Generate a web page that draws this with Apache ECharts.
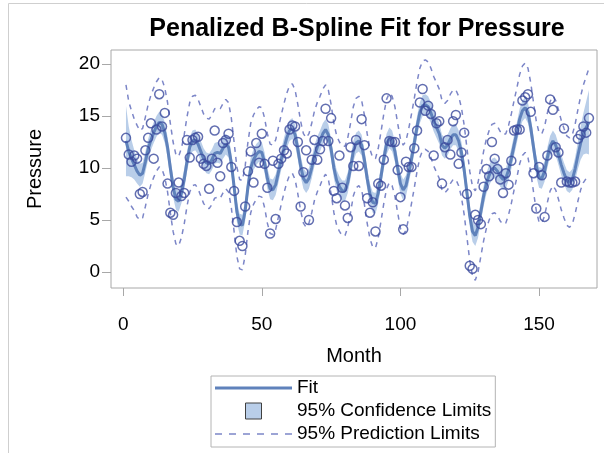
<!DOCTYPE html>
<html><head><meta charset="utf-8">
<script src="https://cdn.jsdelivr.net/npm/echarts@6.0.0/dist/echarts.min.js"></script>
<style>html,body{margin:0;padding:0;background:#fff;}#c{width:604px;height:453px;}</style>
</head><body><div id="c"></div>
<script>
const month = [1,2,3,4,5,6,7,8,9,10,11,12,13,14,15,16,17,18,19,20,21,22,23,24,25,26,27,28,29,30,31,32,33,34,35,36,37,38,39,40,41,42,43,44,45,46,47,48,49,50,51,52,53,54,55,56,57,58,59,60,61,62,63,64,65,66,67,68,69,70,71,72,73,74,75,76,77,78,79,80,81,82,83,84,85,86,87,88,89,90,91,92,93,94,95,96,97,98,99,100,101,102,103,104,105,106,107,108,109,110,111,112,113,114,115,116,117,118,119,120,121,122,123,124,125,126,127,128,129,130,131,132,133,134,135,136,137,138,139,140,141,142,143,144,145,146,147,148,149,150,151,152,153,154,155,156,157,158,159,160,161,162,163,164,165,166,167,168];
const pressure = [12.9,11.3,10.6,11.2,10.9,7.5,7.7,11.7,12.9,14.3,10.9,13.7,17.1,14.0,15.3,8.5,5.7,5.5,7.6,8.6,7.3,7.6,12.7,11.0,12.7,12.9,13.0,10.9,10.4,10.2,8.0,10.9,13.6,10.5,9.2,12.4,12.7,13.3,10.1,7.8,4.8,3.0,2.5,6.3,9.7,11.6,8.6,12.4,10.5,13.3,10.4,8.1,3.7,10.7,5.1,10.4,10.9,11.7,11.4,13.7,14.1,14.0,12.5,6.3,9.6,11.7,5.0,10.8,12.7,10.8,11.8,12.6,15.7,12.6,14.8,7.8,7.1,11.2,8.1,6.4,5.2,12.0,10.2,12.7,10.2,14.7,12.2,7.1,5.7,6.7,3.9,8.5,8.3,10.8,16.7,12.6,12.5,12.5,9.8,7.2,4.1,10.6,10.1,10.1,11.9,13.6,16.3,17.6,15.5,16.0,15.2,11.2,14.3,14.5,8.5,12.0,12.7,11.3,14.5,15.1,10.4,11.5,13.4,7.5,0.6,0.3,5.5,5.0,4.6,8.2,9.9,9.2,12.5,10.9,9.9,8.9,7.6,9.5,8.4,10.7,13.6,13.7,13.7,16.5,16.8,17.1,15.4,9.5,6.1,10.1,9.3,5.3,11.2,16.6,15.6,12.0,11.5,8.6,13.8,8.7,8.6,8.6,8.7,12.8,13.2,14.0,13.4,14.8];
const fit = [12.6,11.6,10.9,10.3,9.7,9.3,9.5,10.6,11.8,12.7,13.4,14.0,14.4,14.2,13.4,12.0,10.0,8.2,7.0,6.8,7.6,8.9,10.6,12.0,12.6,12.7,12.3,11.6,10.9,10.5,10.4,10.8,11.4,11.5,11.4,11.9,12.3,12.0,10.5,8.2,5.8,4.6,4.5,5.9,8.2,10.0,10.8,11.3,11.6,11.5,10.5,9.0,8.0,7.9,8.4,9.6,10.8,11.9,12.9,13.6,13.8,13.2,11.8,10.2,9.0,8.6,9.0,10.0,11.2,12.0,12.6,13.3,13.7,13.2,11.8,10.0,8.8,8.2,7.8,7.8,8.6,10.0,11.6,12.4,12.6,12.2,10.8,9.0,7.5,6.7,6.6,7.6,9.2,10.9,12.3,12.9,12.6,11.6,10.0,8.5,7.9,8.3,9.5,10.9,12.4,14.0,15.3,16.0,16.1,15.9,15.3,14.5,13.9,13.3,12.2,11.9,12.2,12.8,13.2,13.2,12.6,11.5,9.8,7.6,5.4,3.9,3.5,4.3,5.8,7.3,8.5,9.3,9.9,10.0,9.7,9.2,8.9,9.0,9.8,10.9,12.2,13.4,14.7,15.5,15.8,15.3,13.9,12.0,10.2,9.1,9.0,9.7,11.0,12.1,12.6,12.2,11.3,10.3,9.5,8.8,8.6,8.9,9.9,11.2,12.4,13.3,13.9,14.4];
const lowerCL = [9.2,9.2,9.1,8.9,8.5,8.2,8.5,9.6,10.8,11.7,12.4,13.0,13.4,13.2,12.4,11.0,9.0,7.2,6.0,5.8,6.6,7.9,9.6,11.0,11.6,11.7,11.3,10.6,9.9,9.5,9.4,9.8,10.4,10.5,10.4,10.9,11.3,11.0,9.5,7.2,4.8,3.6,3.5,4.9,7.2,9.0,9.8,10.3,10.6,10.5,9.5,8.0,7.0,6.9,7.4,8.6,9.8,10.9,11.9,12.6,12.8,12.2,10.8,9.2,8.0,7.6,8.0,9.0,10.2,11.0,11.6,12.3,12.7,12.2,10.8,9.0,7.8,7.2,6.8,6.8,7.6,9.0,10.6,11.4,11.6,11.2,9.8,8.0,6.5,5.7,5.6,6.6,8.2,9.9,11.3,11.9,11.6,10.6,9.0,7.5,6.9,7.3,8.5,9.9,11.4,13.0,14.3,15.0,15.1,14.9,14.3,13.5,12.9,12.3,11.2,10.9,11.2,11.8,12.2,12.2,11.6,10.5,8.8,6.6,4.4,2.9,2.5,3.3,4.8,6.3,7.5,8.3,8.9,9.0,8.7,8.2,7.9,8.0,8.8,9.9,11.2,12.4,13.7,14.5,14.8,14.3,12.9,11.0,9.2,8.1,8.0,8.7,10.0,11.1,11.6,11.2,10.3,9.3,8.5,7.8,7.6,7.9,8.8,9.9,10.8,11.3,11.4,11.3];
const upperCL = [16.0,14.0,12.7,11.7,10.9,10.4,10.5,11.6,12.8,13.7,14.4,15.0,15.4,15.2,14.4,13.0,11.0,9.2,8.0,7.8,8.6,9.9,11.6,13.0,13.6,13.7,13.3,12.6,11.9,11.5,11.4,11.8,12.4,12.5,12.4,12.9,13.3,13.0,11.5,9.2,6.8,5.6,5.5,6.9,9.2,11.0,11.8,12.3,12.6,12.5,11.5,10.0,9.0,8.9,9.4,10.6,11.8,12.9,13.9,14.6,14.8,14.2,12.8,11.2,10.0,9.6,10.0,11.0,12.2,13.0,13.6,14.3,14.7,14.2,12.8,11.0,9.8,9.2,8.8,8.8,9.6,11.0,12.6,13.4,13.6,13.2,11.8,10.0,8.5,7.7,7.6,8.6,10.2,11.9,13.3,13.9,13.6,12.6,11.0,9.5,8.9,9.3,10.5,11.9,13.4,15.0,16.3,17.0,17.1,16.9,16.3,15.5,14.9,14.3,13.2,12.9,13.2,13.8,14.2,14.2,13.6,12.5,10.8,8.6,6.4,4.9,4.5,5.3,6.8,8.3,9.5,10.3,10.9,11.0,10.7,10.2,9.9,10.0,10.8,11.9,13.2,14.4,15.7,16.5,16.8,16.3,14.9,13.0,11.2,10.1,10.0,10.7,12.0,13.1,13.6,13.2,12.3,11.3,10.5,9.8,9.6,9.9,11.0,12.5,14.0,15.3,16.4,17.5];
const lowerPL = [7.2,6.8,6.3,5.9,5.3,5.0,5.2,6.3,7.5,8.4,9.1,9.7,10.1,9.9,9.1,7.7,5.7,3.9,2.7,2.5,3.3,4.6,6.3,7.7,8.3,8.4,8.0,7.3,6.6,6.2,6.1,6.5,7.1,7.2,7.1,7.6,8.0,7.7,6.2,3.9,1.5,0.3,0.2,1.6,3.9,5.7,6.5,7.0,7.3,7.2,6.2,4.7,3.7,3.6,4.1,5.3,6.5,7.6,8.6,9.3,9.5,8.9,7.5,5.9,4.7,4.3,4.7,5.7,6.9,7.7,8.3,9.0,9.4,8.9,7.5,5.7,4.5,3.9,3.5,3.5,4.3,5.7,7.3,8.1,8.3,7.9,6.5,4.7,3.2,2.4,2.3,3.3,4.9,6.6,8.0,8.6,8.3,7.3,5.7,4.2,3.6,4.0,5.2,6.6,8.1,9.7,11.0,11.7,11.8,11.6,11.0,10.2,9.6,9.0,7.9,7.6,7.9,8.5,8.9,8.9,8.3,7.2,5.5,3.3,1.1,-0.4,-0.8,0.0,1.5,3.0,4.2,5.0,5.6,5.7,5.4,4.9,4.6,4.7,5.5,6.6,7.9,9.1,10.4,11.2,11.5,11.0,9.6,7.7,5.9,4.8,4.7,5.4,6.7,7.8,8.3,7.9,7.0,6.0,5.2,4.5,4.3,4.6,5.6,6.8,7.9,8.6,9.0,9.2];
const upperPL = [18.0,16.4,15.5,14.7,14.1,13.6,13.8,14.9,16.1,17.0,17.7,18.3,18.7,18.5,17.7,16.3,14.3,12.5,11.3,11.1,11.9,13.2,14.9,16.3,16.9,17.0,16.6,15.9,15.2,14.8,14.7,15.1,15.7,15.8,15.7,16.2,16.6,16.3,14.8,12.5,10.1,8.9,8.8,10.2,12.5,14.3,15.1,15.6,15.9,15.8,14.8,13.3,12.3,12.2,12.7,13.9,15.1,16.2,17.2,17.9,18.1,17.5,16.1,14.5,13.3,12.9,13.3,14.3,15.5,16.3,16.9,17.6,18.0,17.5,16.1,14.3,13.1,12.5,12.1,12.1,12.9,14.3,15.9,16.7,16.9,16.5,15.1,13.3,11.8,11.0,10.9,11.9,13.5,15.2,16.6,17.2,16.9,15.9,14.3,12.8,12.2,12.6,13.8,15.2,16.7,18.3,19.6,20.3,20.4,20.2,19.6,18.8,18.2,17.6,16.5,16.2,16.5,17.1,17.5,17.5,16.9,15.8,14.1,11.9,9.7,8.2,7.8,8.6,10.1,11.6,12.8,13.6,14.2,14.3,14.0,13.5,13.2,13.3,14.1,15.2,16.5,17.7,19.0,19.8,20.1,19.6,18.2,16.3,14.5,13.4,13.3,14.0,15.3,16.4,16.9,16.5,15.6,14.6,13.8,13.1,12.9,13.2,14.2,15.6,16.9,18.0,18.8,19.6];
const xTicks = [0, 50, 100, 150];
const yTicks = [0, 5, 10, 15, 20];

const FONT = "'Liberation Sans', Arial, sans-serif";
const bandColor = '#b9cee9';
const fitColor = '#5f82bb';
const dashColor = '#7c86c8';
const markColor = '#3b4a9c';
const frameColor = '#a8a8a8';

const chart = echarts.init(document.getElementById('c'), null, {renderer: 'canvas'});
const pair = (arr) => month.map((m, i) => [m, arr[i]]);

chart.setOption({
  animation: false,
  backgroundColor: '#fff',
  textStyle: {fontFamily: FONT},
  title: {
    text: 'Penalized B-Spline Fit for Pressure',
    left: 357, top: 29, textAlign: 'center', textVerticalAlign: 'middle', padding: 0,
    textStyle: {fontFamily: FONT, fontSize: 25, fontWeight: 'bold', color: '#000'}
  },
  graphic: [
    {type: 'line', shape: {x1: 8.5, y1: 3.5, x2: 604, y2: 3.5}, style: {stroke: '#cfcfcf', lineWidth: 1}, silent: true},
    {type: 'line', shape: {x1: 8.5, y1: 3.5, x2: 8.5, y2: 453}, style: {stroke: '#cfcfcf', lineWidth: 1}, silent: true}
  ],
  grid: {left: 111, right: 7, top: 50, bottom: 165, show: true, borderColor: frameColor, borderWidth: 1, backgroundColor: 'transparent'},
  xAxis: {
    type: 'value', min: -4.4, max: 170.9,
    name: 'Month', nameLocation: 'middle', nameGap: 58,
    nameTextStyle: {fontFamily: FONT, fontSize: 20, color: '#000'},
    axisLine: {show: false, onZero: false},
    splitLine: {show: false},
    axisTick: {show: true, length: 8, lineStyle: {color: frameColor}, customValues: xTicks},
    axisLabel: {margin: 27, fontFamily: FONT, fontSize: 19, color: '#000', customValues: xTicks}
  },
  yAxis: {
    type: 'value', min: -1.54, max: 21.35,
    name: 'Pressure', nameLocation: 'middle', nameGap: 66, nameRotate: 90,
    nameTextStyle: {fontFamily: FONT, fontSize: 20, color: '#000'},
    axisLine: {show: false, onZero: false},
    splitLine: {show: false},
    axisTick: {show: true, length: 9, lineStyle: {color: frameColor}, customValues: yTicks},
    axisLabel: {margin: 11, fontFamily: FONT, fontSize: 19, color: '#000', customValues: yTicks}
  },
  legend: {
    orient: 'vertical', left: 211, top: 376,
    padding: [2, 4, 3, 4], itemGap: 3, itemWidth: 77, itemHeight: 16, itemTextGap: 6,
    borderColor: '#b4b4b4', borderWidth: 1, backgroundColor: '#fff',
    symbolKeepAspect: true,
    textStyle: {fontFamily: FONT, fontSize: 19, color: '#000', lineHeight: 20},
    data: [
      {name: 'Fit', icon: 'path://M0,0H77V3H0Z', itemStyle: {color: fitColor, borderWidth: 0}},
      {name: '95% Confidence Limits', icon: 'path://M0,0H16V16H0Z', itemStyle: {color: bandColor, borderColor: '#404040', borderWidth: 1}},
      {name: '95% Prediction Limits', icon: 'path://M0,0H7V1.5H0Z M14,0H21V1.5H14Z M28,0H35V1.5H28Z M42,0H49V1.5H42Z M56,0H63V1.5H56Z M70,0H77V1.5H70Z', itemStyle: {color: dashColor, borderWidth: 0}}
    ]
  },
  series: [
    {
      type: 'custom', name: '95% Confidence Limits', z: 1, silent: true,
      data: month.map((m, i) => [m, lowerCL[i], upperCL[i]]),
      encode: {x: 0, y: [1, 2]},
      itemStyle: {color: bandColor, borderColor: '#404040', borderWidth: 1},
      renderItem: function (params, api) {
        if (params.dataIndex !== 0) return null;
        const pts = [];
        for (let i = 0; i < month.length; i++) pts.push(api.coord([month[i], upperCL[i]]));
        for (let i = month.length - 1; i >= 0; i--) pts.push(api.coord([month[i], lowerCL[i]]));
        return {type: 'polygon', shape: {points: pts}, style: {fill: bandColor}};
      }
    },
    {
      type: 'line', name: 'Fit', z: 2, data: pair(fit), symbol: 'none', showSymbol: false,
      lineStyle: {color: fitColor, width: 3}, itemStyle: {color: fitColor}
    },
    {
      type: 'line', name: '95% Prediction Limits', z: 3, data: pair(upperPL), symbol: 'none', showSymbol: false,
      lineStyle: {color: dashColor, width: 1.5, type: [5, 5]}, itemStyle: {color: dashColor}
    },
    {
      type: 'line', name: '95% Prediction Limits', z: 3, data: pair(lowerPL), symbol: 'none', showSymbol: false,
      lineStyle: {color: dashColor, width: 1.5, type: [5, 5]}, itemStyle: {color: dashColor}
    },
    {
      type: 'scatter', name: 'Pressure', z: 4, data: pair(pressure),
      symbol: 'circle', symbolSize: 9,
      itemStyle: {color: 'rgba(0,0,0,0)', borderColor: markColor, borderWidth: 1.5}
    }
  ]
});
</script></body></html>
